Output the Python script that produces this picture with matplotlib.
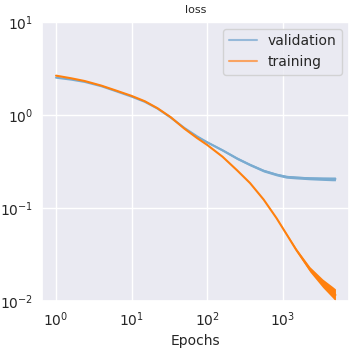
import numpy as np
import matplotlib
matplotlib.use("Agg")
import matplotlib.pyplot as plt
import seaborn as sns
from matplotlib.lines import Line2D

# --- values (log-log loss curves) ---
epochs = [1, 1.6, 2.4, 4, 6.3, 10, 15, 22, 33, 50, 74, 100, 160, 250, 370,
          560, 830, 1120, 1510, 2290, 3390, 4570, 5000]
val_loss = [2.51, 2.39, 2.26, 2.03, 1.79, 1.57, 1.38, 1.17, 0.935, 0.724,
            0.586, 0.509, 0.417, 0.340, 0.291, 0.251, 0.228, 0.216, 0.212,
            0.208, 0.206, 0.205, 0.205]
train_loss = [2.64, 2.47, 2.31, 2.06, 1.82, 1.60, 1.40, 1.18, 0.944, 0.711,
              0.562, 0.476, 0.355, 0.253, 0.185, 0.123, 0.0776, 0.0525,
              0.0355, 0.0219, 0.0155, 0.01245, 0.0116]
# half-width of the noisy band, in decades
val_spread = [0, 0, 0, 0, 0, 0, 0, 0, 0.003, 0.006, 0.008, 0.01, 0.012,
              0.013, 0.013, 0.014, 0.014, 0.015, 0.015, 0.016, 0.018, 0.02,
              0.02]
train_spread = [0, 0, 0, 0, 0, 0, 0, 0, 0, 0, 0, 0, 0, 0, 0, 0.003, 0.006,
                0.01, 0.016, 0.028, 0.045, 0.06, 0.065]

sns.set_theme(style="darkgrid")
plt.rcParams['font.family'] = ['DejaVu Sans']

fig = plt.figure(figsize=(3.52, 3.52), dpi=100)
ax = fig.add_axes([0.119, 0.145, 0.873, 0.793])

ep = np.array(epochs)
v = np.array(val_loss)
t = np.array(train_loss)
vs = np.array(val_spread)
ts = np.array(train_spread)

blue = '#7aabd0'      # faded C0 as it shows on the grey background
orange = '#ff800e'

ax.fill_between(ep, v * 10 ** -vs, v * 10 ** vs, color=blue, lw=0)
ax.plot(ep, v, color=blue, lw=1.5)
ax.fill_between(ep, t * 10 ** -ts, t * 10 ** ts, color=orange, lw=0)
ax.plot(ep, t, color=orange, lw=1.5)

ax.set_xscale('log')
ax.set_yscale('log')
ax.set_ylim(1e-2, 1e1)
ax.set_xlim(0.65, 7600)
ax.tick_params(labelsize=10, length=0, pad=6.5)
ax.set_xlabel('Epochs', fontsize=10)
ax.set_title('loss', fontsize=8)

handles = [Line2D([], [], color='#96b9d9', lw=1.5),
           Line2D([], [], color='#f9a463', lw=1.5)]
ax.legend(handles, ['validation', 'training'], loc='upper right', fontsize=10)

fig.savefig('out.png', dpi=100)
